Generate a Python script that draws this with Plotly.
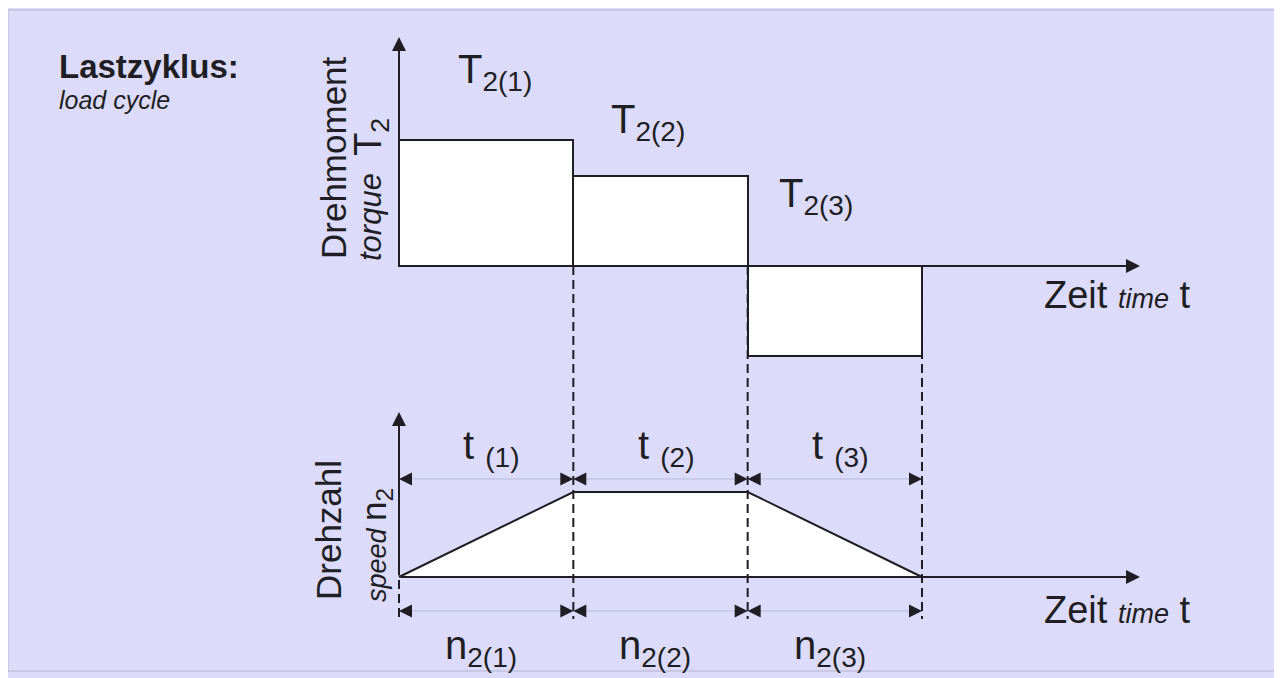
import plotly.graph_objects as go
import numpy as np

# the page puts the figure 8px in from the top-left corner
OFF = 8
W, H = 1282 - OFF, 678 - OFF

# load cycle data
segments = ["(1)", "(2)", "(3)"]
durations = [1.0, 1.0, 1.0]        # t(1), t(2), t(3)
torque = [1.4, 1.0, -1.0]          # T2(1), T2(2), T2(3)
speed_points = [0.0, 1.0, 1.0, 0.0]  # n2 at the segment boundaries

bounds = np.concatenate([[0.0], np.cumsum(durations)])
centers = bounds[:-1] + np.array(durations) / 2

# pixel layout of the drawing (screen pixels)
X0_PX, UNIT_X = 399 - OFF, 174.33
T0_PX, UNIT_T = 266 - OFF, 90
N0_PX, UNIT_N = 577 - OFF, 85

FONT = "Liberation Sans, Arial, sans-serif"
INK = "#1e1e24"
BG = "#dcdcfa"


def px(x):
    return (x - OFF) / W


def py(y):
    return 1 - (y - OFF) / H


fig = go.Figure()

# torque steps
fig.add_trace(go.Bar(x=centers, y=torque, width=durations,
                     marker=dict(color="white", line=dict(color=INK, width=2)),
                     yaxis="y", showlegend=False, hoverinfo="skip"))

# speed profile
fig.add_trace(go.Scatter(x=bounds, y=speed_points, mode="lines",
                         line=dict(color=INK, width=2),
                         fill="tozeroy", fillcolor="white",
                         yaxis="y2", showlegend=False, hoverinfo="skip"))

# dimension rows (t and n)
t_row = (N0_PX - (479 - OFF)) / UNIT_N
n_row = -((611 - OFF) - N0_PX) / UNIT_N
dim_x, dim_sym = [], []
for a, b in zip(bounds[:-1], bounds[1:]):
    dim_x += [a, b]
    dim_sym += ["arrow-left", "arrow-right"]
for row in (t_row, n_row):
    fig.add_trace(go.Scatter(x=dim_x, y=[row] * len(dim_x), mode="lines+markers",
                             line=dict(color="#b9b9dc", width=1),
                             marker=dict(symbol=dim_sym, size=13, color=INK),
                             yaxis="y2", showlegend=False, hoverinfo="skip"))

shapes = [dict(type="rect", xref="paper", yref="paper",
               x0=0, x1=1.0, y0=py(671), y1=py(10),
               fillcolor=BG, line=dict(color="#b4b4cc", width=1), layer="below")]
for i, b in enumerate(bounds):
    top = 580 if i == 0 else 266
    shapes.append(dict(type="line", xref="x", yref="paper", x0=b, x1=b,
                       y0=py(top), y1=py(619),
                       line=dict(color=INK, width=2, dash="9px,5px"), layer="above"))

ann = []
# axis arrows
t_end = (1140 - OFF - X0_PX) / UNIT_X
arrows = [
    ("y", 0, (T0_PX - (37 - OFF)) / UNIT_T),
    ("y", t_end, 0),
    ("y2", 0, (N0_PX - (412 - OFF)) / UNIT_N),
    ("y2", t_end, 0),
]
for yr, x, y in arrows:
    ann.append(dict(xref="x", yref=yr, x=x, y=y, axref="x", ayref=yr, ax=0, ay=0,
                    text="", showarrow=True, arrowhead=2, arrowsize=1.4,
                    arrowwidth=2, arrowcolor=INK, standoff=0))


def note(text, x, y, size, xref="paper", **kw):
    d = dict(text=text, x=x if xref != "paper" else px(x), y=py(y),
             xref=xref, yref="paper", showarrow=False,
             font=dict(family=FONT, size=size, color=INK),
             xanchor=kw.pop("xanchor", "center"), yanchor=kw.pop("yanchor", "middle"))
    d.update(kw)
    ann.append(d)


note("<b>Lastzyklus:</b>", 57, 67, 33, xanchor="left")
note("<i>load cycle</i>", 57, 100, 25, xanchor="left")

note("Drehmoment", 333, 158, 35, textangle=-90)
note("<i>torque</i>  <span style='font-size:38px'>T<sub>2</sub></span>", 371, 190, 31, textangle=-90)
note("Drehzahl", 328, 530, 35, textangle=-90)
note("<i>speed</i> <span style='font-size:35px'>n<sub>2</sub></span>", 376, 545, 27, textangle=-90)

zeit = "Zeit <span style='font-size:27px'><i>time</i></span> t"
note(zeit, 1042, 295, 38, xanchor="left")
note(zeit, 1042, 610, 38, xanchor="left")

t_label_y = [72, 122, 196]
t_label_dx = [0.05, -0.07, -0.11]
for s, c, ly, dx in zip(segments, centers, t_label_y, t_label_dx):
    note("T<sub>2%s</sub>" % s, c + dx, ly, 40, xref="x")
    note("t <sub>%s</sub>" % s, c + 0.03, 448, 40, xref="x")
    note("n<sub>2%s</sub>" % s, c - 0.03, 648, 40, xref="x")

fig.update_layout(
    width=W, height=H,
    margin=dict(l=0, r=0, t=0, b=0),
    paper_bgcolor="white", plot_bgcolor=BG,
    xaxis=dict(range=[-X0_PX / UNIT_X, (W - X0_PX) / UNIT_X], visible=False, fixedrange=True),
    yaxis=dict(range=[-(H - T0_PX) / UNIT_T, T0_PX / UNIT_T], visible=False, fixedrange=True),
    yaxis2=dict(range=[-(H - N0_PX) / UNIT_N, N0_PX / UNIT_N], visible=False,
                overlaying="y", fixedrange=True),
    shapes=shapes, annotations=ann,
    bargap=0,
)

fig.write_html("out.html")
